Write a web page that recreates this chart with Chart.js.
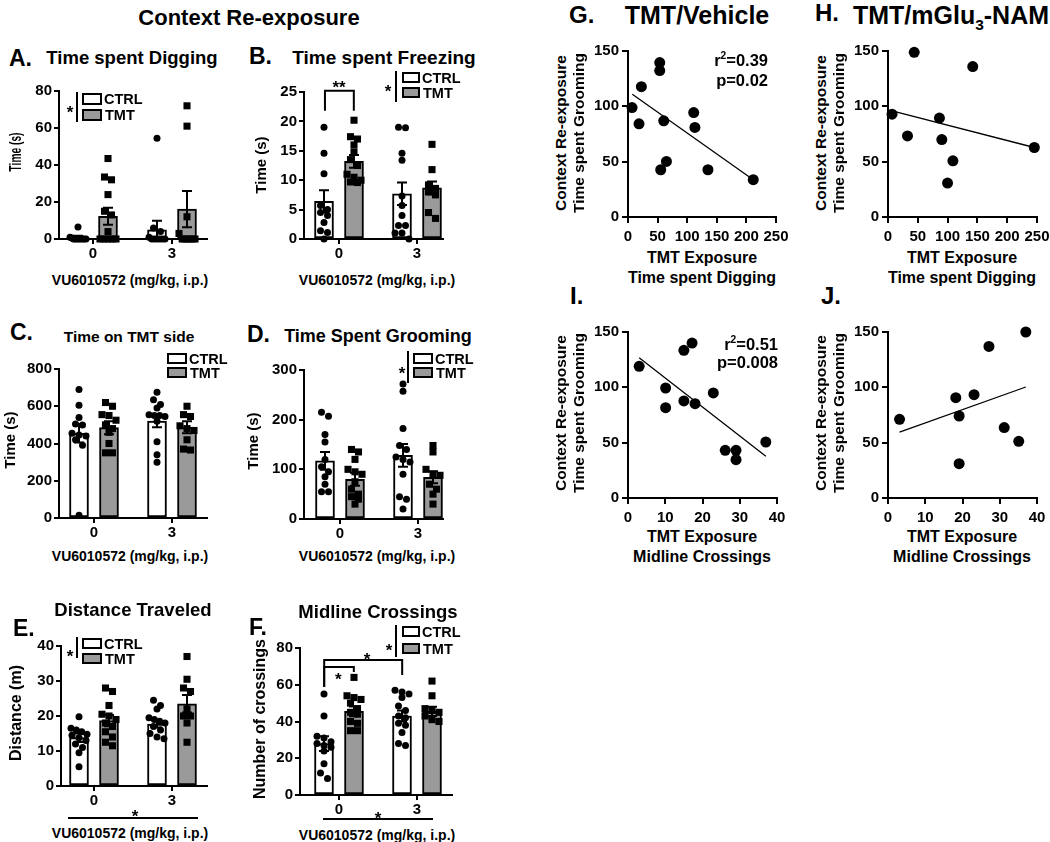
<!DOCTYPE html>
<html>
<head>
<meta charset="utf-8">
<script src="https://cdn.jsdelivr.net/npm/chart.js@4.4.0/dist/chart.umd.min.js"></script>
<style>
  body { margin: 0; width: 1050px; height: 842px; position: relative; overflow: hidden; background: #fff;
         font-family: "Liberation Sans", Arial, sans-serif; font-weight: bold; color: #000; }
  canvas { position: absolute; }
  .t { position: absolute; white-space: nowrap; line-height: 1; z-index: 2; }
  .box { position: absolute; border: 2px solid #000; box-sizing: border-box; z-index: 2; }
  .ln { position: absolute; background: #000; z-index: 2; }
  sup, sub { font-size: 0.62em; line-height: 0; }
</style>
</head>
<body>
<script>
const FONT = '"Liberation Sans", Arial, sans-serif';
const GREY = '#9a9a9a';

// ---- data ----
const doses = ['0', '3'];

// bar panels: order CTRL 0, TMT 0, CTRL 3, TMT 3
const digMean = [1, 12.3, 5, 16.2];
const digSem = [0.7, 4.6, 4.8, 9.8];
const digPts = [
  [6.5, 1, 0.5, 0, 0, 0, 0, 0, 0, 0, 0],
  [43.5, 33.5, 32, 24, 15, 13, 4, 0, 0, 0, 0, 0],
  [54.5, 6, 4, 1, 0, 0, 0, 0, 0, 0],
  [72, 61, 12, 3, 0, 0, 0, 0, 0]
];

const freezeMean = [6.4, 13.2, 7.7, 8.7];
const freezeSem = [1.9, 1.1, 1.9, 1.1];
const freezePts = [
  [19, 14.6, 11.1, 5.7, 5, 4.5, 4, 2.8, 1.4, 1.1, 0],
  [20.2, 17.4, 17, 16, 14.8, 13.5, 12.5, 11, 10.5, 10, 9.7, 9.6],
  [19, 18.9, 14.6, 13.4, 7.3, 5.7, 4, 2.3, 2.3, 1, 1, 0],
  [16.1, 11.8, 9.2, 8.6, 8, 7.5, 4.5, 3.5]
];

const sideMean = [455, 485, 520, 487];
const sideSem = [50, 35, 33, 32];
const sidePts = [
  [690, 605, 540, 505, 500, 455, 445, 440, 420, 390, 15],
  [620, 600, 555, 550, 525, 500, 480, 460, 400, 350, 350],
  [675, 635, 610, 590, 555, 550, 550, 545, 520, 410, 340, 300],
  [600, 555, 545, 495, 480, 470, 420, 370, 365]
];

const groomMean = [117, 80, 128, 84];
const groomSem = [18, 13, 23, 12];
const groomPts = [
  [215, 207, 170, 155, 120, 105, 95, 85, 70, 55, 55],
  [140, 135, 120, 100, 95, 90, 75, 60, 50, 45, 40, 30],
  [272, 257, 182, 148, 140, 125, 120, 115, 90, 45, 40, 20],
  [148, 135, 100, 90, 88, 70, 60, 50, 30]
];

const distMean = [13.8, 18.7, 17.7, 23.5];
const distSem = [1.2, 1.6, 1.0, 2.5];
const distPts = [
  [19.8, 16.5, 16, 15.5, 14.8, 14.5, 13.8, 13, 12, 11, 9.5, 5.5],
  [28, 27, 23, 20.5, 20, 19, 18, 17, 15.5, 14, 12.5, 11.5],
  [24.5, 23, 22, 19.5, 19, 18.5, 18, 17, 16, 15, 14, 13.5],
  [37, 30.5, 28, 27, 22, 20, 20, 18, 12.5]
];

const crossMean = [28, 45.5, 43, 45.5];
const crossSem = [4, 2.6, 3, 2.5];
const crossPts = [
  [55, 43, 32, 31, 29, 28, 27, 26, 24, 17, 12, 9],
  [64, 54, 53, 52, 50, 47, 45, 44, 40, 39, 35, 35],
  [57, 56, 55, 53, 48.5, 46, 43, 42, 39, 38, 34, 28, 27],
  [62, 54, 47, 46, 45, 43, 41, 40]
];

// correlation panels
const digVehX = [6.8, 18.6, 22.6, 53.6, 53.6, 60.4, 55.3, 64.9, 111, 113, 135, 211.6];
const digVehY = [98.9, 84.2, 117.8, 139.5, 132.3, 86.9, 42.7, 50.2, 94.4, 80.9, 42.7, 33.7];
const digVehFit = [[7.3, 110.9], [211.6, 33.7]];

const digNamX = [6.8, 32.7, 44, 86.3, 90.3, 99.9, 108.9, 142.2, 245.5];
const digNamY = [92.9, 73.3, 148.8, 89.4, 70, 30.7, 50.8, 135.9, 62.8];
const digNamFit = [[6.8, 95.9], [245.5, 62.8]];

const crossVehX = [3, 10.1, 10.1, 15, 15, 17.2, 18, 22.9, 26.1, 29, 29, 37];
const crossVehY = [119, 99.4, 81.6, 133.4, 87.7, 140, 85.2, 94.9, 43.1, 43.1, 34.6, 50.6];
const crossVehFit = [[3, 126.8], [37, 37.7]];

const crossNamX = [3.1, 18.2, 19.1, 19.1, 23.1, 27.1, 31.2, 35.1, 37];
const crossNamY = [71.1, 90.7, 74.1, 31, 93.4, 137, 63.6, 51.2, 150];
const crossNamFit = [[3.1, 59.6], [37, 100.3]];

// ---- helpers ----
Chart.defaults.font.family = FONT;
Chart.defaults.font.weight = 'bold';
Chart.defaults.font.size = 15;
Chart.defaults.color = '#000';

function label(html, x, y, size, o = {}) {
  const d = document.createElement('div');
  d.className = 't';
  d.innerHTML = html;
  d.style.left = x + 'px';
  d.style.top = y + 'px';
  d.style.fontSize = size + 'px';
  let tf = o.align === 'left' ? 'translate(0,-50%)' : o.align === 'right' ? 'translate(-100%,-50%)' : 'translate(-50%,-50%)';
  if (o.rot) tf += ' rotate(-90deg)' + (o.squeeze ? ' scaleX(' + o.squeeze + ')' : '');
  d.style.transform = tf;
  document.body.appendChild(d);
}

function star(x, y, size) {
  label('*', x, y + 0.22 * size, size);
}

function rect(cls, x, y, w, h, bg) {
  const d = document.createElement('div');
  d.className = cls;
  Object.assign(d.style, { left: x + 'px', top: y + 'px', width: w + 'px', height: h + 'px' });
  if (bg) d.style.background = bg;
  document.body.appendChild(d);
}

function legend(bx, by1, by2, bw, bh, sig) {
  rect('box', bx, by1, bw, bh, '#fff');
  rect('box', bx, by2, bw, bh, GREY);
  label('CTRL', bx + bw + 2, by1 + bh / 2, 14.5, { align: 'left' });
  label('TMT', bx + bw + 3, by2 + bh / 2, 14.5, { align: 'left' });
  if (sig) {
    rect('ln', sig.lx, sig.lt, 2, sig.lb - sig.lt);
    star(sig.sx, sig.sy, 17);
  }
}

function makeCanvas(g, pad) {
  const c = document.createElement('canvas');
  const w = g.R - g.L + pad.l + pad.r, h = g.B - g.T + pad.t + pad.b;
  c.width = w; c.height = h;
  Object.assign(c.style, { left: (g.L - pad.l) + 'px', top: (g.T - pad.t) + 'px', width: w + 'px', height: h + 'px' });
  document.body.appendChild(c);
  return c;
}

function axis(min, max, step, fit, extra) {
  return Object.assign({
    type: 'linear', min: min, max: max, offset: false,
    border: { display: true, color: '#000', width: 2 },
    grid: { display: true, drawOnChartArea: false, drawTicks: true, tickLength: 5, color: '#000', lineWidth: 2, offset: false },
    ticks: { stepSize: step, padding: 2, color: '#000', autoSkip: false, maxRotation: 0, font: { size: 15, weight: 'bold' } },
    afterFit: fit
  }, extra || {});
}

// error bars + brackets, placed with the chart's own scales
const marks = {
  id: 'marks',
  afterDatasetsDraw(chart, args, o) {
    const ctx = chart.ctx, x = chart.scales.x, y = chart.scales.y;
    ctx.save();
    ctx.strokeStyle = '#000';
    ctx.lineWidth = 2;
    (o.mean || []).forEach((m, i) => {
      const px = x.getPixelForValue(o.xs[i]);
      const top = y.getPixelForValue(m + o.sem[i]);
      const bot = y.getPixelForValue(Math.max(m - o.sem[i], 0));
      ctx.beginPath();
      ctx.moveTo(px, top); ctx.lineTo(px, bot);
      ctx.moveTo(px - 5, top); ctx.lineTo(px + 5, top);
      ctx.moveTo(px - 5, bot); ctx.lineTo(px + 5, bot);
      ctx.stroke();
    });
    (o.brackets || []).forEach(b => {
      const x1 = x.getPixelForValue(b.x1), x2 = x.getPixelForValue(b.x2), yt = y.getPixelForValue(b.y);
      ctx.beginPath();
      ctx.moveTo(x1, y.getPixelForValue(b.y1));
      ctx.lineTo(x1, yt);
      ctx.lineTo(x2, yt);
      ctx.lineTo(x2, y.getPixelForValue(b.y2));
      ctx.stroke();
      ctx.font = 'bold 17px ' + FONT;
      ctx.textAlign = 'center';
      ctx.fillStyle = '#000';
      ctx.fillText(b.text, x.getPixelForValue(b.tx), y.getPixelForValue(b.ty) + 10);
    });
    ctx.restore();
  }
};

// horizontal spread of dots that sit at about the same height
function spread(vals, centre, yPerPx, xPerPx) {
  const s = vals.slice().sort((a, b) => b - a);
  const out = [];
  let i = 0;
  while (i < s.length) {
    let j = i;
    while (j + 1 < s.length && (s[i] - s[j + 1]) / yPerPx < 6) j++;
    const n = j - i + 1;
    const step = Math.min(7, 16 / Math.max(n - 1, 1)) * xPerPx;
    for (let k = 0; k < n; k++) out.push({ x: centre + (k - (n - 1) / 2) * step, y: s[i + k] });
    i = j + 1;
  }
  return out;
}

function barPanel(g, mean, sem, pts, yMax, yStep, brackets) {
  const pad = { l: 45, t: 14, r: 10, b: 26 };
  const unit = g.c1 - g.c0;
  const off = 15 / unit;
  const xs = [-off, off, 1 - off, 1 + off];
  const yPerPx = yMax / (g.B - g.T), xPerPx = 1 / unit;
  const ctrl = spread(pts[0], xs[0], yPerPx, xPerPx).concat(spread(pts[2], xs[2], yPerPx, xPerPx));
  const tmt = spread(pts[1], xs[1], yPerPx, xPerPx).concat(spread(pts[3], xs[3], yPerPx, xPerPx));
  const barStyle = { type: 'bar', borderColor: '#000', borderWidth: 2, barThickness: 19, grouped: false, order: 3, borderSkipped: false };
  new Chart(makeCanvas(g, pad), {
    type: 'bar',
    data: {
      datasets: [
        { type: 'scatter', data: ctrl, pointStyle: 'circle', pointRadius: 3.5, backgroundColor: '#000', borderWidth: 0, order: 1, clip: false },
        { type: 'scatter', data: tmt, pointStyle: 'rect', pointRadius: 5, backgroundColor: '#000', borderWidth: 0, order: 1, clip: false },
        Object.assign({ label: 'CTRL', data: [{ x: xs[0], y: mean[0] }, { x: xs[2], y: mean[2] }], backgroundColor: '#fff' }, barStyle),
        Object.assign({ label: 'TMT', data: [{ x: xs[1], y: mean[1] }, { x: xs[3], y: mean[3] }], backgroundColor: GREY }, barStyle)
      ]
    },
    options: {
      responsive: false, animation: false, events: [],
      layout: { padding: { top: pad.t, right: pad.r, left: 0, bottom: 0 } },
      plugins: { legend: { display: false }, tooltip: { enabled: false },
        marks: { mean: mean, sem: sem, xs: xs, brackets: brackets || [] } },
      scales: {
        x: axis((g.L - g.c0) / unit, 1 + (g.R - g.c1) / unit, 1, s => { s.height = pad.b; }, {
          afterBuildTicks: s => { s.ticks = [{ value: 0 }, { value: 1 }]; },
          ticks: { padding: 1, color: '#000', autoSkip: false, maxRotation: 0, font: { size: 15, weight: 'bold' },
            callback: (v, i) => doses[i] }
        }),
        y: axis(0, yMax, yStep, s => { s.width = pad.l; })
      }
    },
    plugins: [marks]
  });
}

function corrPanel(g, xv, yv, fit, xMax, xStep) {
  const pad = { l: 45, t: 14, r: 20, b: 30 };
  new Chart(makeCanvas(g, pad), {
    type: 'scatter',
    data: {
      datasets: [
        { data: xv.map((v, i) => ({ x: v, y: yv[i] })), pointRadius: 5.5, backgroundColor: '#000', borderWidth: 0, order: 1, clip: false },
        { type: 'line', data: fit.map(p => ({ x: p[0], y: p[1] })), borderColor: '#000', borderWidth: 1.3, pointRadius: 0, order: 2, clip: false }
      ]
    },
    options: {
      responsive: false, animation: false, events: [],
      layout: { padding: { top: pad.t, right: pad.r, left: 0, bottom: 0 } },
      plugins: { legend: { display: false }, tooltip: { enabled: false } },
      scales: {
        x: axis(0, xMax, xStep, s => { s.height = pad.b; }, {
          grid: { display: true, drawOnChartArea: false, drawTicks: true, tickLength: 6, color: '#000', lineWidth: 2 },
          ticks: { stepSize: xStep, padding: 5, color: '#000', autoSkip: false, maxRotation: 0, font: { size: 15, weight: 'bold' } }
        }),
        y: axis(0, 150, 50, s => { s.width = pad.l; }, {
          grid: { display: true, drawOnChartArea: false, drawTicks: true, tickLength: 6, color: '#000', lineWidth: 2 },
          ticks: { stepSize: 50, padding: 3, color: '#000', font: { size: 15, weight: 'bold' } }
        })
      }
    }
  });
}

// ---- bar panels ----
barPanel({ L: 59, T: 91, R: 207, B: 239, c0: 93, c1: 172 }, digMean, digSem, digPts, 80, 20);
barPanel({ L: 304, T: 92, R: 443, B: 239, c0: 339, c1: 417 }, freezeMean, freezeSem, freezePts, 25, 5, [
  { x1: -0.18, x2: 0.19, y: 25.2, y1: 21.8, y2: 21.8, text: '**', tx: 0, ty: 26.6 }
]);
barPanel({ L: 59, T: 369, R: 207, B: 518, c0: 94, c1: 172 }, sideMean, sideSem, sidePts, 800, 200);
barPanel({ L: 304, T: 370, R: 443, B: 519, c0: 340, c1: 418 }, groomMean, groomSem, groomPts, 300, 100);
barPanel({ L: 61, T: 646, R: 207, B: 786, c0: 94, c1: 172 }, distMean, distSem, distPts, 40, 10);
barPanel({ L: 300, T: 648, R: 452, B: 795, c0: 339, c1: 417 }, crossMean, crossSem, crossPts, 80, 20, [
  { x1: -0.19, x2: 0.19, y: 69.7, y1: 58.8, y2: 66.9, text: '*', tx: -0.01, ty: 65.5 },
  { x1: -0.19, x2: 0.81, y: 73.5, y1: 58.8, y2: 65.3, text: '*', tx: 0.36, ty: 76.3 }
]);

// ---- correlation panels ----
corrPanel({ L: 628, T: 51, R: 776, B: 217 }, digVehX, digVehY, digVehFit, 250, 50);
corrPanel({ L: 888, T: 51, R: 1037, B: 217 }, digNamX, digNamY, digNamFit, 250, 50);
corrPanel({ L: 628, T: 332, R: 777, B: 498 }, crossVehX, crossVehY, crossVehFit, 40, 10);
corrPanel({ L: 888, T: 332, R: 1037, B: 498 }, crossNamX, crossNamY, crossNamFit, 40, 10);

// ---- text ----
label('Context Re-exposure', 249, 18, 22);

label('A.', 9, 58, 23, { align: 'left' });
label('Time spent Digging', 132, 58, 18.5);
label('B.', 249, 56, 23, { align: 'left' });
label('Time spent Freezing', 384, 57, 19);
label('C.', 10, 332, 23, { align: 'left' });
label('Time on TMT side', 129, 337, 15.5);
label('D.', 247, 334, 23, { align: 'left' });
label('Time Spent Grooming', 378, 336, 18);
label('E.', 13, 628, 23, { align: 'left' });
label('Distance Traveled', 133, 610, 18.5);
label('F.', 249, 627, 23, { align: 'left' });
label('Midline Crossings', 378, 612, 18.5);

label('Time (s)', 15, 152, 17, { rot: true, squeeze: 0.6 });
label('Time (s)', 260, 165, 15, { rot: true });
label('Time (s)', 9, 440, 15, { rot: true });
label('Time (s)', 252, 441, 15, { rot: true });
label('Distance (m)', 16, 713, 16, { rot: true });
label('Number of crossings', 260, 719, 16, { rot: true });

const xTitle = 'VU6010572 (mg/kg, i.p.)';
label(xTitle, 130, 280, 14);
label(xTitle, 377, 280, 14);
label(xTitle, 130, 556, 14);
label(xTitle, 377, 556, 14);
label(xTitle, 130, 833, 14);
label(xTitle, 377, 835, 14);

// main effect lines under E and F
rect('ln', 68, 817, 130, 2);
star(135, 812, 17);
rect('ln', 323, 818, 110, 2);
star(378, 814, 17);

legend(82, 93, 109, 20, 12, { sx: 70, sy: 108, lx: 76, lt: 92, lb: 122 });
legend(402, 72, 87, 18, 11, { sx: 388, sy: 87, lx: 395, lt: 71, lb: 102 });
legend(167, 353, 367, 20, 11, null);
legend(413, 353, 367, 20, 11, { sx: 402, sy: 369, lx: 407, lt: 351, lb: 383 });
legend(82, 638, 653, 20, 11, { sx: 70, sy: 652, lx: 76, lt: 637, lb: 658 });
legend(402, 626, 643, 18, 11, { sx: 389, sy: 646, lx: 395, lt: 625, lb: 657 });

label('G.', 569, 15, 24, { align: 'left' });
label('TMT/Vehicle', 697, 15, 25);
label('H.', 815, 13, 24, { align: 'left' });
label('TMT/mGlu<sub>3</sub>-NAM', 951, 15, 25);
label('I.', 570, 296, 24, { align: 'left' });
label('J.', 821, 296, 24, { align: 'left' });

label('r<sup>2</sup>=0.39', 768, 60, 16.5, { align: 'right' });
label('p=0.02', 768, 80, 16.5, { align: 'right' });
label('r<sup>2</sup>=0.51', 778, 344, 16.5, { align: 'right' });
label('p=0.008', 778, 362, 16.5, { align: 'right' });

[[561, 579, 133], [821, 839, 133], [561, 579, 413], [821, 839, 413]].forEach(p => {
  label('Context Re-exposure', p[0], p[2], 15.5, { rot: true });
  label('Time spent Grooming', p[1], p[2], 15.5, { rot: true });
});

label('TMT Exposure', 702, 258, 16);
label('Time spent Digging', 702, 278, 16);
label('TMT Exposure', 962, 258, 16);
label('Time spent Digging', 962, 278, 16);
label('TMT Exposure', 702, 537, 16);
label('Midline Crossings', 702, 557, 16);
label('TMT Exposure', 962, 537, 16);
label('Midline Crossings', 962, 557, 16);
</script>
</body>
</html>
